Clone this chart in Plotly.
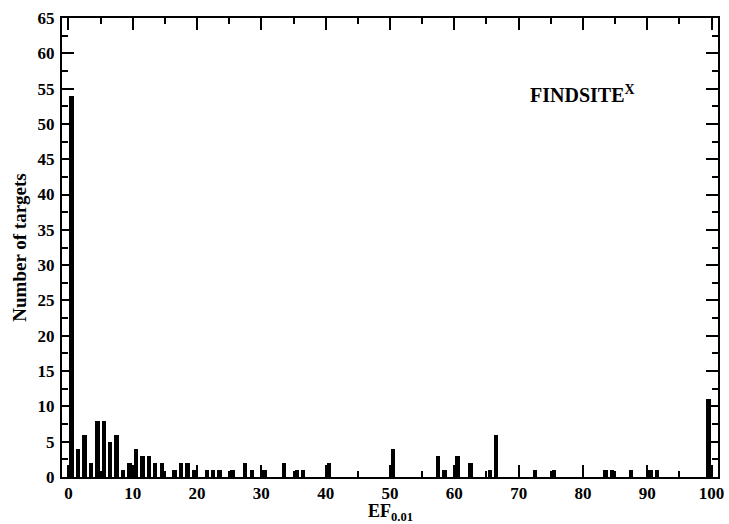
import plotly.graph_objects as go

# Histogram bins (bin start value) and counts
bins = [0, 1, 2, 3, 4, 5, 6, 7, 8, 9, 10, 11, 12, 13, 14, 16, 17, 18, 19, 21, 22, 23,
        25, 27, 28, 30, 33, 35, 36, 40, 50, 57, 58, 60, 62, 65, 66, 72, 75, 83, 84,
        87, 90, 91, 99]
counts = [54, 4, 6, 2, 8, 8, 5, 6, 1, 2, 4, 3, 3, 2, 2, 1, 2, 2, 1, 1, 1, 1,
          1, 2, 1, 1, 2, 1, 1, 2, 4, 3, 1, 3, 2, 1, 6, 1, 1, 1, 1,
          1, 1, 1, 11]
x_ticks = [0, 10, 20, 30, 40, 50, 60, 70, 80, 90, 100]
y_ticks = [0, 5, 10, 15, 20, 25, 30, 35, 40, 45, 50, 55, 60, 65]

centers = [b + 0.5 for b in bins]

font_family = "Liberation Serif"

fig = go.Figure()
fig.add_trace(go.Bar(
    x=centers, y=counts, width=0.68,
    marker=dict(color="black", line=dict(width=0)),
    showlegend=False,
))

axis_common = dict(
    showline=True, linecolor="black", linewidth=2, mirror="allticks",
    ticks="inside", tickcolor="black", tickwidth=1.5, ticklen=12,
    showgrid=False, zeroline=False, automargin=False,
    tickfont=dict(family=font_family, size=17, color="black", weight="bold"),
)

fig.update_xaxes(
    range=[-1, 101], tickvals=x_ticks, ticktext=[str(v) for v in x_ticks],
    minor=dict(ticks="inside", ticklen=6, tickwidth=1.5, tickcolor="black", dtick=5, tick0=0),
    ticklabelstandoff=0,
    **axis_common,
)
fig.update_yaxes(
    range=[0, 65], tickvals=y_ticks, ticktext=[str(v) for v in y_ticks],
    minor=dict(ticks="inside", ticklen=6, tickwidth=1.5, tickcolor="black", dtick=2.5, tick0=0),
    title=dict(text="<b>Number of targets</b>", font=dict(family=font_family, size=19, color="black"),
               standoff=6),
    ticklabelstandoff=2,
    **axis_common,
)

# x-axis title as an annotation
fig.add_annotation(
    x=0.5, y=-0.049, xref="paper", yref="paper", xanchor="center", yanchor="top",
    text="<b>EF<sub>0.01</sub></b>", showarrow=False,
    font=dict(family=font_family, size=18, color="black"),
)

fig.add_annotation(
    x=71.5, y=54.3, xref="x", yref="y", xanchor="left", yanchor="middle",
    text="<b>FINDSITE<sup>X</sup></b>", showarrow=False,
    font=dict(family=font_family, size=20, color="black"),
)

fig.update_layout(
    width=729, height=524,
    margin=dict(l=62, r=11, t=18, b=47),
    plot_bgcolor="white", paper_bgcolor="white",
    bargap=0,
)

fig.write_html("out.html")
